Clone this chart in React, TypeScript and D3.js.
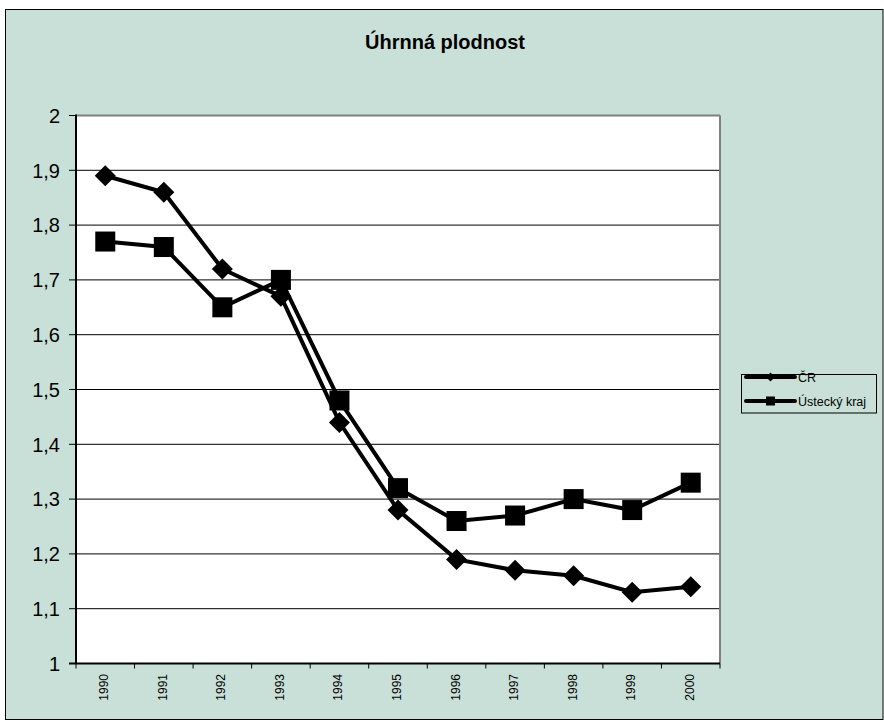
import React from "react";
import * as d3 from "d3";

const years = ["1990","1991","1992","1993","1994","1995","1996","1997","1998","1999","2000"];
const cr = [1.89,1.86,1.72,1.67,1.44,1.28,1.19,1.17,1.16,1.13,1.14];
const ustecky = [1.77,1.76,1.65,1.70,1.48,1.32,1.26,1.27,1.30,1.28,1.33];
const yTicks = [1,1.1,1.2,1.3,1.4,1.5,1.6,1.7,1.8,1.9,2];
const title = "Úhrnná plodnost";
const seriesNames = ["ČR", "Ústecký kraj"];

export default function App() {
  const W = 884, H = 720;
  const L = 76, R = 720, T = 115.5, B = 663.5;
  const x = d3.scaleBand().domain(years).range([L, R]);
  const y = d3.scaleLinear().domain([1, 2]).range([B, T]);
  const cx = (i: number) => x(years[i])! + x.bandwidth() / 2;
  const line = d3.line<number>().x((_, i) => cx(i)).y(d => y(d));
  const fmt = (v: number) => (Math.round(v * 10) / 10).toString().replace(".", ",");
  const bg = "#C9E0D8";
  const diamond = (px: number, py: number, r: number) => `M${px},${py - r}L${px + r},${py}L${px},${py + r}L${px - r},${py}Z`;
  return (
    <svg width={W} height={H} style={{ position: "absolute", left: 0, top: 0 }} fontFamily="Arial, 'Liberation Sans', sans-serif">
      <rect x={0} y={0} width={W} height={H} fill="#fff" />
      <rect x={5.5} y={9.5} width={877.5} height={710} fill={bg} stroke="#000" strokeWidth={1} />
      <text x={445} y={49} textAnchor="middle" fontSize={20} fontWeight="bold">{title}</text>
      <rect x={L} y={T} width={R - L} height={B - T} fill="#fff" />
      {yTicks.slice(1).map(t => (
        <line key={t} x1={L} x2={R} y1={y(t)} y2={y(t)} stroke="#000" strokeWidth={1} />
      ))}
      <line x1={L} x2={R} y1={T} y2={T} stroke="#808080" strokeWidth={2} />
      <line x1={R} x2={R} y1={T} y2={B} stroke="#808080" strokeWidth={2} />
      <line x1={L} x2={L} y1={T - 1} y2={B} stroke="#000" strokeWidth={2} />
      <line x1={L - 7} x2={R} y1={B} y2={B} stroke="#000" strokeWidth={2} />
      {yTicks.map(t => (
        <g key={t}>
          <line x1={L - 7} x2={L} y1={y(t)} y2={y(t)} stroke="#000" strokeWidth={1} />
          <text x={L - 16} y={y(t)} dy="0.36em" textAnchor="end" fontSize={20}>{fmt(t)}</text>
        </g>
      ))}
      {years.map(yr => (
        <line key={"t" + yr} x1={x(yr)!} x2={x(yr)!} y1={B} y2={B + 5} stroke="#000" strokeWidth={1} />
      ))}
      <line x1={R} x2={R} y1={B} y2={B + 5} stroke="#000" strokeWidth={1} />
      {years.map((yr, i) => (
        <text key={yr} transform={`translate(${cx(i) + 3},${B + 10.5}) rotate(-90)`} textAnchor="end" fontSize={12}>{yr}</text>
      ))}
      <path d={line(cr)!} fill="none" stroke="#000" strokeWidth={4} />
      <path d={line(ustecky)!} fill="none" stroke="#000" strokeWidth={4} />
      {cr.map((v, i) => (
        <path key={"c" + i} d={diamond(cx(i), y(v), 10.5)} fill="#000" />
      ))}
      {ustecky.map((v, i) => (
        <rect key={"u" + i} x={cx(i) - 10} y={y(v) - 10} width={20} height={20} fill="#000" />
      ))}
      <rect x={741.5} y={374.5} width={135} height={38.5} fill={bg} stroke="#000" strokeWidth={1} />
      <line x1={746} x2={795} y1={377} y2={377} stroke="#000" strokeWidth={4} strokeLinecap="round" />
      <path d={diamond(770.5, 377, 4.5)} fill="#000" />
      <text x={798} y={377} dy="0.36em" fontSize={12.5}>{seriesNames[0]}</text>
      <line x1={746} x2={795} y1={401} y2={401} stroke="#000" strokeWidth={4} strokeLinecap="round" />
      <rect x={766} y={396.5} width={9} height={9} fill="#000" />
      <text x={798} y={401} dy="0.36em" fontSize={12.5}>{seriesNames[1]}</text>
    </svg>
  );
}
